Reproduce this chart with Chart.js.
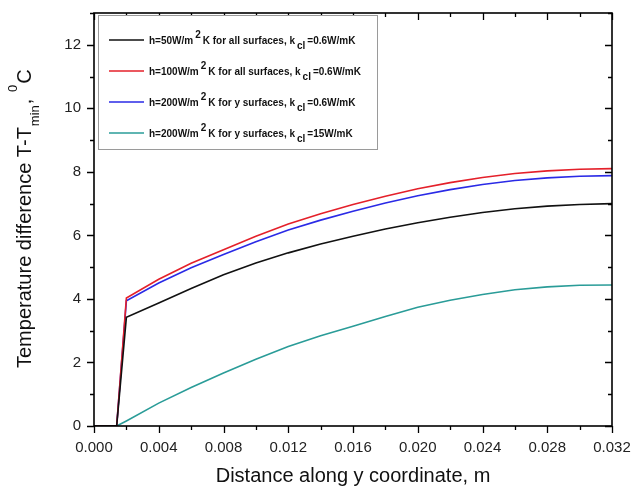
<!DOCTYPE html>
<html>
<head>
<meta charset="utf-8">
<script src="https://cdn.jsdelivr.net/npm/chart.js@4.4.1/dist/chart.umd.min.js"></script>
<style>
  html, body { margin: 0; padding: 0; background: #fff; }
  #wrap { width: 632px; height: 489px; }
</style>
</head>
<body>
<div id="wrap"><canvas id="myChart" width="632" height="489"></canvas></div>
<script>
// distance along y coordinate, m
const xValues = [0, 0.0014, 0.002, 0.004, 0.006, 0.008, 0.010, 0.012, 0.014, 0.016, 0.018, 0.020, 0.022, 0.024, 0.026, 0.028, 0.030, 0.032];

// temperature difference T - Tmin, C
const h50All = [0, 0, 3.42, 3.87, 4.33, 4.76, 5.13, 5.45, 5.73, 5.97, 6.20, 6.40, 6.57, 6.72, 6.84, 6.92, 6.97, 7.00];
const h100All = [0, 0, 4.03, 4.62, 5.12, 5.55, 5.97, 6.36, 6.68, 6.97, 7.23, 7.47, 7.66, 7.82, 7.95, 8.03, 8.08, 8.10];
const h200Y = [0, 0, 3.94, 4.50, 4.98, 5.40, 5.80, 6.17, 6.48, 6.76, 7.02, 7.25, 7.44, 7.60, 7.73, 7.81, 7.86, 7.88];
const h200YK15 = [0, 0, 0.16, 0.72, 1.21, 1.67, 2.10, 2.50, 2.84, 3.14, 3.45, 3.74, 3.96, 4.14, 4.29, 4.38, 4.43, 4.44];

// ^{..} superscript, _{..} subscript
const seriesLabels = [
  'h=50W/m^{2}K for all surfaces, k_{cl}=0.6W/mK',
  'h=100W/m^{2}K for all surfaces, k_{cl}=0.6W/mK',
  'h=200W/m^{2}K for y surfaces, k_{cl}=0.6W/mK',
  'h=200W/m^{2}K for y surfaces, k_{cl}=15W/mK'
];
const seriesColors = ['#111111', '#e4202a', '#2a2ae6', '#2a9c98'];

const xTitle = 'Distance along y coordinate, m';
const yTitle = 'Temperature difference T-T_{min}, ^{0}C';

const xTicks = [0, 0.004, 0.008, 0.012, 0.016, 0.020, 0.024, 0.028, 0.032];
const yTicks = [0, 2, 4, 6, 8, 10, 12];

const FONT = 'Arial, "Liberation Sans", sans-serif';

function toPoints(ys) {
  return xValues.map(function (x, i) { return { x: x, y: ys[i] }; });
}

// split "a^{b}c_{d}" into pieces
function parseRich(str) {
  const parts = [];
  const re = /([\^_])\{([^}]*)\}/g;
  let last = 0, m;
  while ((m = re.exec(str)) !== null) {
    if (m.index > last) parts.push({ t: str.slice(last, m.index), k: 'n' });
    parts.push({ t: m[2], k: m[1] == '^' ? 'sup' : 'sub' });
    last = re.lastIndex;
  }
  if (last < str.length) parts.push({ t: str.slice(last), k: 'n' });
  return parts;
}

function richWidth(ctx, parts, size, small, weight, gap) {
  let w = 0;
  parts.forEach(function (p) {
    ctx.font = weight + ' ' + (p.k == 'n' ? size : small) + 'px ' + FONT;
    w += ctx.measureText(p.t).width + (p.k == 'n' ? 0 : gap * 2);
  });
  return w;
}

function drawRich(ctx, parts, x, y, size, small, weight, color, gap) {
  ctx.fillStyle = color;
  ctx.textBaseline = 'middle';
  ctx.textAlign = 'left';
  parts.forEach(function (p) {
    ctx.font = weight + ' ' + (p.k == 'n' ? size : small) + 'px ' + FONT;
    let dy = 0;
    if (p.k == 'sup') dy = -size * 0.6;
    if (p.k == 'sub') dy = size * 0.5;
    if (p.k != 'n') x += gap;
    ctx.fillText(p.t, x, y + dy);
    x += ctx.measureText(p.t).width + (p.k == 'n' ? 0 : gap);
  });
}

const framePlugin = {
  id: 'frame',
  afterDraw: function (chart) {
    const ctx = chart.ctx;
    const a = chart.chartArea;
    const xs = chart.scales.x;
    const ys = chart.scales.y;
    ctx.save();
    ctx.strokeStyle = '#000';
    ctx.lineWidth = 1.6;
    ctx.strokeRect(a.left, a.top, a.right - a.left, a.bottom - a.top);

    ctx.lineWidth = 1.3;
    ctx.beginPath();
    // x ticks: bottom outward, top inward
    for (let v = 0; v <= 0.0321; v += 0.002) {
      const px = Math.round(xs.getPixelForValue(v)) + 0.5;
      const major = Math.round(v * 1000) % 4 == 0;
      const len = major ? 7 : 4;
      ctx.moveTo(px, a.bottom); ctx.lineTo(px, a.bottom + len);
      ctx.moveTo(px, a.top); ctx.lineTo(px, a.top + len);
    }
    // y ticks: left outward, right inward
    for (let v = 0; v <= 13; v += 1) {
      const py = Math.round(ys.getPixelForValue(v)) + 0.5;
      const major = v % 2 == 0;
      const len = major ? 7 : 4;
      ctx.moveTo(a.left, py); ctx.lineTo(a.left - len, py);
      ctx.moveTo(a.right, py); ctx.lineTo(a.right - len, py);
    }
    ctx.stroke();

    // legend box
    const bx = a.left + 4, by = a.top + 2, bw = 279, bh = 134;
    ctx.fillStyle = '#fff';
    ctx.fillRect(bx, by, bw, bh);
    ctx.strokeStyle = '#9a9a9a';
    ctx.lineWidth = 1;
    ctx.strokeRect(bx + 0.5, by + 0.5, bw, bh);
    seriesLabels.forEach(function (lab, i) {
      const ly = by + 25 + i * 31;
      ctx.strokeStyle = seriesColors[i];
      ctx.lineWidth = 1.5;
      ctx.beginPath();
      ctx.moveTo(bx + 11, ly);
      ctx.lineTo(bx + 46, ly);
      ctx.stroke();
      drawRich(ctx, parseRich(lab), bx + 51, ly + 1, 10, 10, 'bold', '#111', 2);
    });

    // axis titles
    const xp = parseRich(xTitle);
    const xw = richWidth(ctx, xp, 20, 13, 'normal', 1);
    drawRich(ctx, xp, 353 - xw / 2, 476, 20, 13, 'normal', '#111', 1);

    const yp = parseRich(yTitle);
    ctx.save();
    ctx.translate(25, 368);
    ctx.rotate(-Math.PI / 2);
    drawRich(ctx, yp, 0, 0, 20, 13, 'normal', '#111', 1);
    ctx.restore();

    ctx.restore();
  }
};

const ctx = document.getElementById('myChart');
new Chart(ctx, {
  type: 'line',
  data: {
    datasets: seriesLabels.map(function (lab, i) {
      return {
        label: lab,
        data: toPoints([h50All, h100All, h200Y, h200YK15][i]),
        borderColor: seriesColors[i],
        borderWidth: 1.6,
        pointRadius: 0,
        tension: 0,
        fill: false
      };
    })
  },
  options: {
    responsive: false,
    animation: false,
    layout: { padding: { top: 13, right: 20, left: 0, bottom: 0 } },
    plugins: {
      legend: { display: false },
      tooltip: { enabled: false }
    },
    scales: {
      x: {
        type: 'linear',
        min: 0,
        max: 0.032,
        afterFit: function (scale) {
          scale.height = 63;
          scale.paddingLeft = 0;
          scale.paddingRight = 0;
        },
        afterBuildTicks: function (scale) {
          scale.ticks = xTicks.map(function (v) { return { value: v }; });
        },
        ticks: {
          callback: function (v) { return v.toFixed(3); },
          font: { size: 15, family: FONT },
          color: '#222',
          padding: 13,
          maxRotation: 0
        },
        grid: { display: false, drawTicks: false },
        border: { display: false }
      },
      y: {
        min: 0,
        max: 13,
        afterFit: function (scale) {
          scale.width = 94;
          scale.paddingTop = 0;
          scale.paddingBottom = 0;
        },
        afterBuildTicks: function (scale) {
          scale.ticks = yTicks.map(function (v) { return { value: v }; });
        },
        ticks: {
          font: { size: 15, family: FONT },
          color: '#222',
          padding: 13
        },
        grid: { display: false, drawTicks: false },
        border: { display: false }
      }
    }
  },
  plugins: [framePlugin]
});
</script>
</body>
</html>
